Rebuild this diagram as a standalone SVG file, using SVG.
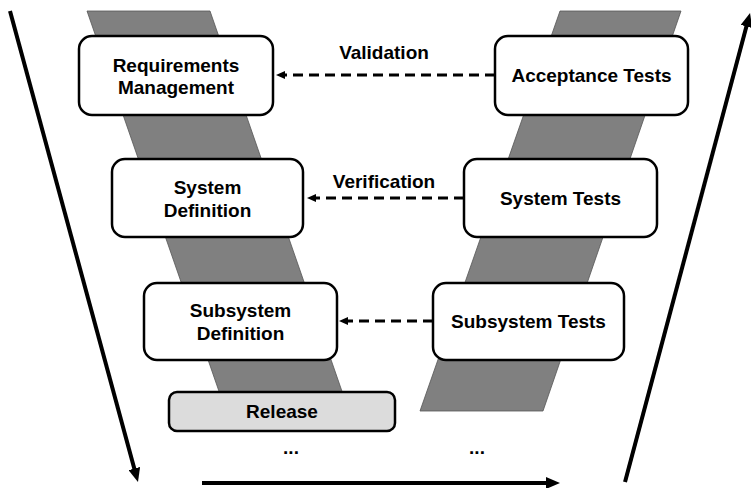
<svg xmlns="http://www.w3.org/2000/svg" width="751" height="488" viewBox="0 0 751 488">
<style>
.band{fill:#808080;stroke:#555;stroke-width:0.8}
.box{fill:#fff;stroke:#000;stroke-width:2.5}
.rel{fill:#dcdcdc;stroke:#000;stroke-width:2.5}
text{font-family:"Liberation Sans",Arial,sans-serif;font-weight:bold;font-size:19px;fill:#000;text-anchor:middle}
.dash{stroke:#000;stroke-width:3;stroke-dasharray:10 6;fill:none}
.big{stroke:#000;stroke-width:4;fill:none}
</style>
<defs>
<marker id="bigHead" viewBox="0 0 14 12" markerWidth="14" markerHeight="12" markerUnits="userSpaceOnUse" refX="3" refY="6" orient="auto"><path d="M0,0 L14,6 L0,12 z" fill="#000"/></marker>
<marker id="smallHead" viewBox="0 0 9 8" markerWidth="9" markerHeight="8" markerUnits="userSpaceOnUse" refX="0" refY="4" orient="auto"><path d="M0,0 L9,4 L0,8 z" fill="#000"/></marker>
</defs>
<g id="bands">
<polygon class="band" points="87,11 210,11 345,400 222,400"/>
<polygon class="band" points="560,11 681,11 543,411 420,411"/>
</g>
<g id="connectors">
<line class="dash" x1="495" y1="75" x2="285" y2="75" marker-end="url(#smallHead)"/>
<line class="dash" x1="464" y1="198" x2="316" y2="198" marker-end="url(#smallHead)"/>
<line class="dash" x1="433" y1="321" x2="348" y2="321" marker-end="url(#smallHead)"/>
<line class="big" x1="10" y1="11" x2="135.1" y2="471.4" marker-end="url(#bigHead)"/>
<line class="big" x1="202" y1="483" x2="549" y2="483" marker-end="url(#bigHead)"/>
<line class="big" x1="625" y1="482" x2="747.2" y2="23.6" marker-end="url(#bigHead)"/>
</g>
<g id="requirements">
<rect class="box" x="79" y="36" width="194" height="79" rx="13"/>
<text x="176" y="71.5">Requirements</text>
<text x="176" y="93.5">Management</text>
</g>
<g id="acceptance">
<rect class="box" x="495" y="36" width="193" height="79" rx="13"/>
<text x="591.5" y="82">Acceptance Tests</text>
</g>
<g id="system-def">
<rect class="box" x="112" y="159" width="191" height="78" rx="13"/>
<text x="207.5" y="193.5">System</text>
<text x="207.5" y="216.5">Definition</text>
</g>
<g id="system-tests">
<rect class="box" x="464" y="159" width="193" height="78" rx="13"/>
<text x="560.5" y="205">System Tests</text>
</g>
<g id="subsystem-def">
<rect class="box" x="144" y="283" width="193" height="77" rx="13"/>
<text x="240.5" y="316.5">Subsystem</text>
<text x="240.5" y="339.5">Definition</text>
</g>
<g id="subsystem-tests">
<rect class="box" x="433" y="283" width="191" height="77" rx="13"/>
<text x="528.5" y="328">Subsystem Tests</text>
</g>
<g id="release">
<rect class="rel" x="169" y="392" width="226" height="39" rx="8"/>
<text x="282" y="418">Release</text>
</g>
<g id="labels">
<text x="384" y="59">Validation</text>
<text x="384" y="188">Verification</text>
<text x="291" y="454">...</text>
<text x="477" y="454">...</text>
</g>
</svg>
